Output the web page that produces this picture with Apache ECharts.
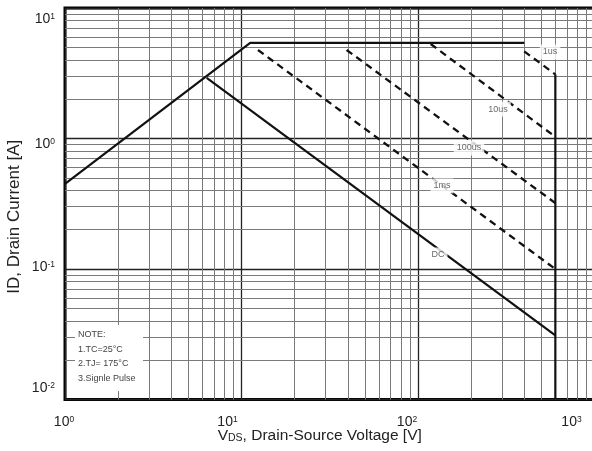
<!DOCTYPE html>
<html>
<head>
<meta charset="utf-8">
<script src="https://cdn.jsdelivr.net/npm/echarts@6.0.0/dist/echarts.min.js"></script>
<style>
html,body{margin:0;padding:0;background:#fff;}
#c{width:592px;height:451px;}
</style>
</head>
<body>
<div id="c"></div>
<script>
// ---- axis structure ----
const xDecades = [1, 10, 100];
const yDecades = [0.01, 0.1, 1];
const gridMultipliers = [2, 3, 4, 5, 6, 7, 8, 9];
const xTickExp = [0, 1, 2, 3];
const yTickExp = [-2, -1, 0, 1];

// ---- curves (VDS [V], ID [A]) ----
const soaLimit   = [[1, 0.45], [11.2, 5.4], [400, 5.4]];
const vdssLimit  = [[600, 3.1], [600, 0.01]];
const pulse1us   = [[400, 4.65], [600, 3.1]];
const pulse10us  = [[118, 5.3], [600, 1.03]];
const pulse100us = [[39.4, 4.77], [600, 0.32]];
const pulse1ms   = [[12.4, 4.77], [600, 0.1]];
const dcLimit    = [[6.35, 2.92], [600, 0.031]];

// ---- curve labels ----
const curveNames  = ['1us', '10us', '100us', '1ms', 'DC'];
const curveLabelV = [560, 284, 194.5, 136.8, 129.8];
const curveLabelI = [4.6, 1.68, 0.846, 0.433, 0.128];

const noteLines = ['NOTE:', '1.TC=25°C', '2.TJ= 175°C', '3.Signle Pulse'];

// ---- styles ----
const FONT = 'Liberation Sans, Arial, sans-serif';
const xLabelShiftLeft = {0: 1, 1: 14, 2: 11, 3: 23};
const yLabelShiftDown = {'1': 11, '0': 6, '-1': -2, '-2': -11};

const xMinor = [], yMinor = [];
xDecades.forEach(d => gridMultipliers.forEach(k => xMinor.push(k * d)));
yDecades.forEach(d => gridMultipliers.forEach(k => yMinor.push(k * d)));

function expOf(v) { return Math.round(Math.log10(v)); }

const xRich = {
  b: {fontFamily: FONT, fontSize: 14, lineHeight: 14, color: '#222'},
  s: {fontFamily: FONT, fontSize: 8.5, lineHeight: 9, verticalAlign: 'top', color: '#222'}
};
xTickExp.forEach(e => { xRich['w' + e] = {width: 2 * xLabelShiftLeft[e], fontSize: 1}; });

const yRich = {
  b: {fontFamily: FONT, fontSize: 14, lineHeight: 14, color: '#222'},
  s: {fontFamily: FONT, fontSize: 8.5, lineHeight: 9, verticalAlign: 'top', color: '#222'}
};
yTickExp.forEach(e => {
  const d = Math.abs(yLabelShiftDown[String(e)]);
  yRich['g' + (e < 0 ? 'm' + (-e) : e)] = {lineHeight: 2 * d, height: 2 * d, fontSize: 1};
});

const lineBase = {type: 'line', showSymbol: false, symbol: 'none', silent: true, z: 3, animation: false};
const solid = {color: '#111', width: 2.2, type: 'solid', cap: 'butt'};
const dashed = {color: '#111', width: 2.3, type: [7, 5], cap: 'butt'};

const chart = echarts.init(document.getElementById('c'), null, {renderer: 'canvas'});
chart.setOption({
  animation: false,
  backgroundColor: '#fff',
  grid: {
    left: 65, top: 8, width: 529.5, height: 391.5,
    containLabel: false, outerBoundsMode: 'none',
    show: true, borderColor: '#000', borderWidth: 3, backgroundColor: '#fff'
  },
  xAxis: {
    type: 'log', logBase: 10, min: 1, max: 1000,
    axisLine: {show: false}, axisTick: {show: false},
    splitLine: {show: true, lineStyle: {color: '#222', width: 1.3}},
    axisLabel: {
      margin: 16, showMinLabel: true, showMaxLabel: true,
      formatter: v => { const e = expOf(v); return '{b|10}{s|' + e + '}{w' + e + '| }'; },
      rich: xRich
    },
    name: '{v|V}{ds|DS}{t|, Drain-Source Voltage [V]}',
    nameLocation: 'middle', nameGap: 28, nameMoveOverlap: false,
    nameTextStyle: {
      padding: [0, 20, 0, 0],
      rich: {
        v: {fontFamily: FONT, fontSize: 15.5, lineHeight: 16, color: '#222', verticalAlign: 'bottom'},
        ds: {fontFamily: FONT, fontSize: 10.5, lineHeight: 12, color: '#222', verticalAlign: 'bottom'},
        t: {fontFamily: FONT, fontSize: 15.5, lineHeight: 16, color: '#222', verticalAlign: 'bottom'}
      }
    }
  },
  yAxis: {
    type: 'log', logBase: 10, min: 0.01, max: 10,
    axisLine: {show: false}, axisTick: {show: false},
    splitLine: {show: true, lineStyle: {color: '#222', width: 1.3}},
    axisLabel: {
      margin: 10, showMinLabel: true, showMaxLabel: true,
      formatter: v => {
        const e = expOf(v);
        const key = 'g' + (e < 0 ? 'm' + (-e) : e);
        const main = '{b|10}{s|' + e + '}';
        return yLabelShiftDown[String(e)] > 0 ? '{' + key + '| }\n' + main : main + '\n{' + key + '| }';
      },
      rich: yRich
    },
    name: 'ID, Drain Current [A]',
    nameLocation: 'middle', nameRotate: 90, nameGap: 42, nameMoveOverlap: false,
    nameTextStyle: {fontFamily: FONT, fontSize: 17, color: '#222', padding: [0, 26, 0, 0]}
  },
  series: [
    {
      type: 'line', data: [], silent: true, z: 1, animation: false,
      markLine: {
        silent: true, z: 1, symbol: ['none', 'none'], animation: false,
        label: {show: false}, emphasis: {disabled: true},
        lineStyle: {color: '#7a7a7a', width: 1, type: 'solid'},
        data: xMinor.map(v => ({xAxis: v})).concat(yMinor.map(v => ({yAxis: v})))
      }
    },
    Object.assign({}, lineBase, {name: 'limit', data: soaLimit, lineStyle: solid}),
    Object.assign({}, lineBase, {name: 'vdss', data: vdssLimit, lineStyle: solid}),
    Object.assign({}, lineBase, {name: '1us', data: pulse1us, lineStyle: dashed}),
    Object.assign({}, lineBase, {name: '10us', data: pulse10us, lineStyle: dashed}),
    Object.assign({}, lineBase, {name: '100us', data: pulse100us, lineStyle: dashed}),
    Object.assign({}, lineBase, {name: '1ms', data: pulse1ms, lineStyle: dashed}),
    Object.assign({}, lineBase, {name: 'DC', data: dcLimit, lineStyle: solid}),
    {
      type: 'scatter', z: 6, silent: true, animation: false,
      symbolSize: 0,
      data: curveNames.map((n, i) => ({name: n, value: [curveLabelV[i], curveLabelI[i]]})),
      label: {
        show: true, position: 'inside', formatter: '{b}',
        fontFamily: FONT, fontSize: 9, color: '#444',
        backgroundColor: '#fff', padding: [3, 3]
      }
    }
  ],
  graphic: [{
    type: 'group', left: 75, top: 325, z: 20,
    children: [
      {type: 'rect', shape: {x: 0, y: 0, width: 68, height: 66}, style: {fill: '#fff'}, z: 20}
    ].concat(noteLines.map((t, i) => ({
      type: 'text', z: 21, x: 3, y: 10 + i * 14.5,
      style: {text: t, font: '9px ' + FONT, fill: '#444', verticalAlign: 'middle'}
    })))
  }]
});
</script>
</body>
</html>
